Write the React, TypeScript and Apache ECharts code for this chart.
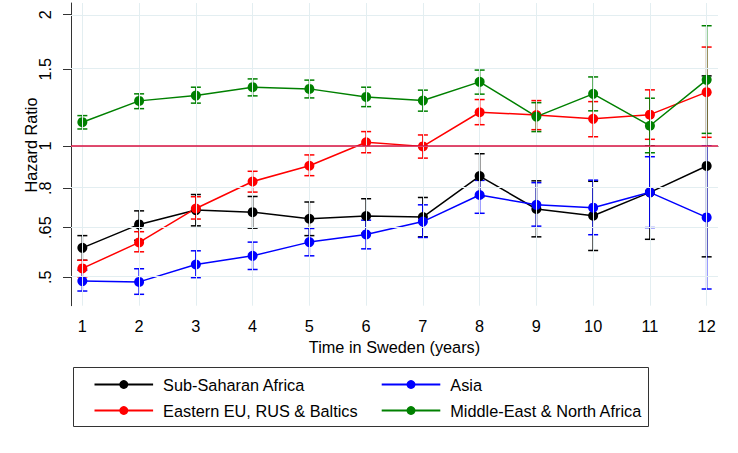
import React, { useEffect, useRef } from "react";
import * as echarts from "echarts";

const years = [1, 2, 3, 4, 5, 6, 7, 8, 9, 10, 11, 12];
const yTickValues = [0.5, 0.65, 0.8, 1, 1.5, 2];
const yTickLabels = [".5", ".65", ".8", "1", "1.5", "2"];
const seriesNames = [
  "Sub-Saharan Africa",
  "Eastern EU, RUS & Baltics",
  "Asia",
  "Middle-East & North Africa",
];
const seriesColors = ["#000000", "#ff0000", "#0000ff", "#008000"];

const ssaHR = [0.584, 0.661, 0.713, 0.705, 0.681, 0.691, 0.687, 0.853, 0.717, 0.692, 0.783, 0.9];
const ssaLo = [0.547, 0.608, 0.656, 0.648, 0.623, 0.631, 0.619, 0.765, 0.619, 0.576, 0.611, 0.557];
const ssaHi = [0.623, 0.71, 0.774, 0.766, 0.744, 0.757, 0.762, 0.96, 0.832, 0.83, 1.0, 1.448];

const eeuHR = [0.524, 0.601, 0.719, 0.829, 0.901, 1.02, 0.998, 1.195, 1.178, 1.154, 1.18, 1.329];
const eeuLo = [0.501, 0.572, 0.68, 0.784, 0.855, 0.965, 0.938, 1.119, 1.09, 1.05, 1.036, 1.047];
const eeuHi = [0.547, 0.636, 0.765, 0.875, 0.954, 1.079, 1.06, 1.278, 1.271, 1.264, 1.345, 1.686];

const asiaHR = [0.49, 0.488, 0.535, 0.56, 0.602, 0.627, 0.671, 0.772, 0.733, 0.722, 0.783, 0.686];
const asiaLo = [0.465, 0.457, 0.499, 0.521, 0.56, 0.581, 0.617, 0.701, 0.655, 0.626, 0.65, 0.47];
const asiaHi = [0.519, 0.523, 0.575, 0.602, 0.647, 0.676, 0.733, 0.834, 0.824, 0.835, 0.945, 1.0];

const menaHR = [1.134, 1.269, 1.305, 1.364, 1.352, 1.296, 1.271, 1.403, 1.168, 1.317, 1.113, 1.418];
const menaLo = [1.094, 1.218, 1.254, 1.303, 1.289, 1.231, 1.202, 1.315, 1.079, 1.204, 0.965, 1.069];
const menaHi = [1.174, 1.317, 1.364, 1.425, 1.416, 1.364, 1.343, 1.493, 1.257, 1.44, 1.287, 1.887];

const referenceValue = 1;

const FONT = '"Liberation Sans", Arial, Helvetica, sans-serif';
const GRID_COLOR = "#e3eef1";

export default function App() {
  const ref = useRef<HTMLDivElement>(null);

  useEffect(() => {
    if (!ref.current) return;
    const chart = echarts.init(ref.current, null, { renderer: "svg" });

    const groups = [
      { hr: ssaHR, lo: ssaLo, hi: ssaHi },
      { hr: eeuHR, lo: eeuLo, hi: eeuHi },
      { hr: asiaHR, lo: asiaLo, hi: asiaHi },
      { hr: menaHR, lo: menaLo, hi: menaHi },
    ];

    const series: any[] = [];

    // gridlines
    series.push({
      type: "line",
      name: "__grid",
      data: [],
      silent: true,
      z: 1,
      markLine: {
        silent: true,
        symbol: ["none", "none"],
        label: { show: false },
        animation: false,
        data: [
          ...yTickValues.map((v) => ({
            yAxis: Math.log(v),
            lineStyle: { color: GRID_COLOR, width: 1, type: "solid" },
          })),
          ...years.map((x) => ({
            xAxis: x,
            lineStyle: { color: GRID_COLOR, width: 1, type: "solid" },
          })),
        ],
      },
    });
    // reference line at HR = 1
    series.push({
      type: "line",
      name: "__ref",
      data: [],
      silent: true,
      z: 2,
      markLine: {
        silent: true,
        symbol: ["none", "none"],
        label: { show: false },
        animation: false,
        data: [
          {
            yAxis: Math.log(referenceValue),
            lineStyle: { color: "#d8103f", width: 1.5, type: "solid" },
          },
        ],
      },
    });

    groups.forEach((g, i) => {
      const color = seriesColors[i];
      series.push({
        type: "custom",
        name: seriesNames[i] + " CI",
        z: 3,
        silent: true,
        data: years.map((x, k) => [x, Math.log(g.lo[k]), Math.log(g.hi[k])]),
        renderItem: (params: any, api: any) => {
          const x = api.value(0);
          const pLo = api.coord([x, api.value(1)]);
          const pHi = api.coord([x, api.value(2)]);
          const w = 5;
          const style = { stroke: color, lineWidth: 1.5 };
          return {
            type: "group",
            children: [
              { type: "line", shape: { x1: pLo[0], y1: pLo[1], x2: pHi[0], y2: pHi[1] }, style },
              { type: "line", shape: { x1: pLo[0] - w, y1: pLo[1], x2: pLo[0] + w, y2: pLo[1] }, style },
              { type: "line", shape: { x1: pHi[0] - w, y1: pHi[1], x2: pHi[0] + w, y2: pHi[1] }, style },
            ],
          };
        },
      });
      series.push({
        type: "line",
        name: seriesNames[i],
        z: 3,
        data: years.map((x, k) => [x, Math.log(g.hr[k])]),
        symbol: "circle",
        symbolSize: 10,
        showSymbol: true,
        color,
        itemStyle: { color },
        lineStyle: { color, width: 1.5 },
      });
    });

    const legendCommon = {
      orient: "vertical",
      itemWidth: 58.6,
      itemHeight: 11,
      itemGap: 10,
      padding: 0,
      selectedMode: false,
      textStyle: { fontSize: 16.3, color: "#000", fontFamily: FONT, padding: [0, 0, 0, 5] },
      top: 376.5,
    };

    chart.setOption({
      animation: false,
      backgroundColor: "#ffffff",
      textStyle: { fontFamily: FONT },
      grid: { left: 71, right: 20, top: 3, bottom: 147.3, containLabel: false },
      xAxis: {
        type: "value",
        min: 0.8,
        max: 12.2,
        name: "Time in Sweden (years)",
        nameLocation: "middle",
        nameGap: 31,
        nameTextStyle: { fontSize: 16.3, color: "#000", fontFamily: FONT },
        axisLine: { show: true, lineStyle: { color: "#333", width: 1 } },
        axisTick: { show: true, customValues: years, length: 7, lineStyle: { color: "#333" } },
        axisLabel: {
          customValues: years,
          fontSize: 16.3,
          color: "#000",
          margin: 12,
          fontFamily: FONT,
        },
        splitLine: { show: false },
      },
      yAxis: {
        type: "value",
        min: -0.8432,
        max: 0.755,
        axisLine: { show: true, lineStyle: { color: "#333", width: 1 } },
        axisTick: {
          show: true,
          customValues: yTickValues.map((v) => Math.log(v)),
          length: 8,
          lineStyle: { color: "#333" },
        },
        axisLabel: {
          customValues: yTickValues.map((v) => Math.log(v)),
          rotate: 90,
          fontSize: 16.3,
          color: "#000",
          margin: 18,
          fontFamily: FONT,
          formatter: (v: number) => {
            const idx = yTickValues.findIndex((t) => Math.abs(Math.log(t) - v) < 1e-6);
            return idx >= 0 ? yTickLabels[idx] : "";
          },
        },
        splitLine: { show: false },
      },
      legend: [
        { ...legendCommon, left: 93.5, data: [seriesNames[0], seriesNames[1]] },
        { ...legendCommon, left: 380.7, data: [seriesNames[2], seriesNames[3]] },
      ],
      graphic: [
        {
          type: "text",
          x: 30.5,
          y: 145,
          rotation: Math.PI / 2,
          style: {
            text: "Hazard Ratio",
            fontSize: 16.3,
            fontFamily: FONT,
            fill: "#000",
            align: "center",
            verticalAlign: "middle",
          },
        },
        {
          type: "rect",
          shape: { x: 73.5, y: 367.5, width: 575, height: 59 },
          style: { fill: "none", stroke: "#333", lineWidth: 1 },
        },
      ],
      series,
    });

    return () => chart.dispose();
  }, []);

  return (
    <div
      ref={ref}
      style={{ position: "fixed", left: 0, top: 0, width: 738, height: 453 }}
    />
  );
}
